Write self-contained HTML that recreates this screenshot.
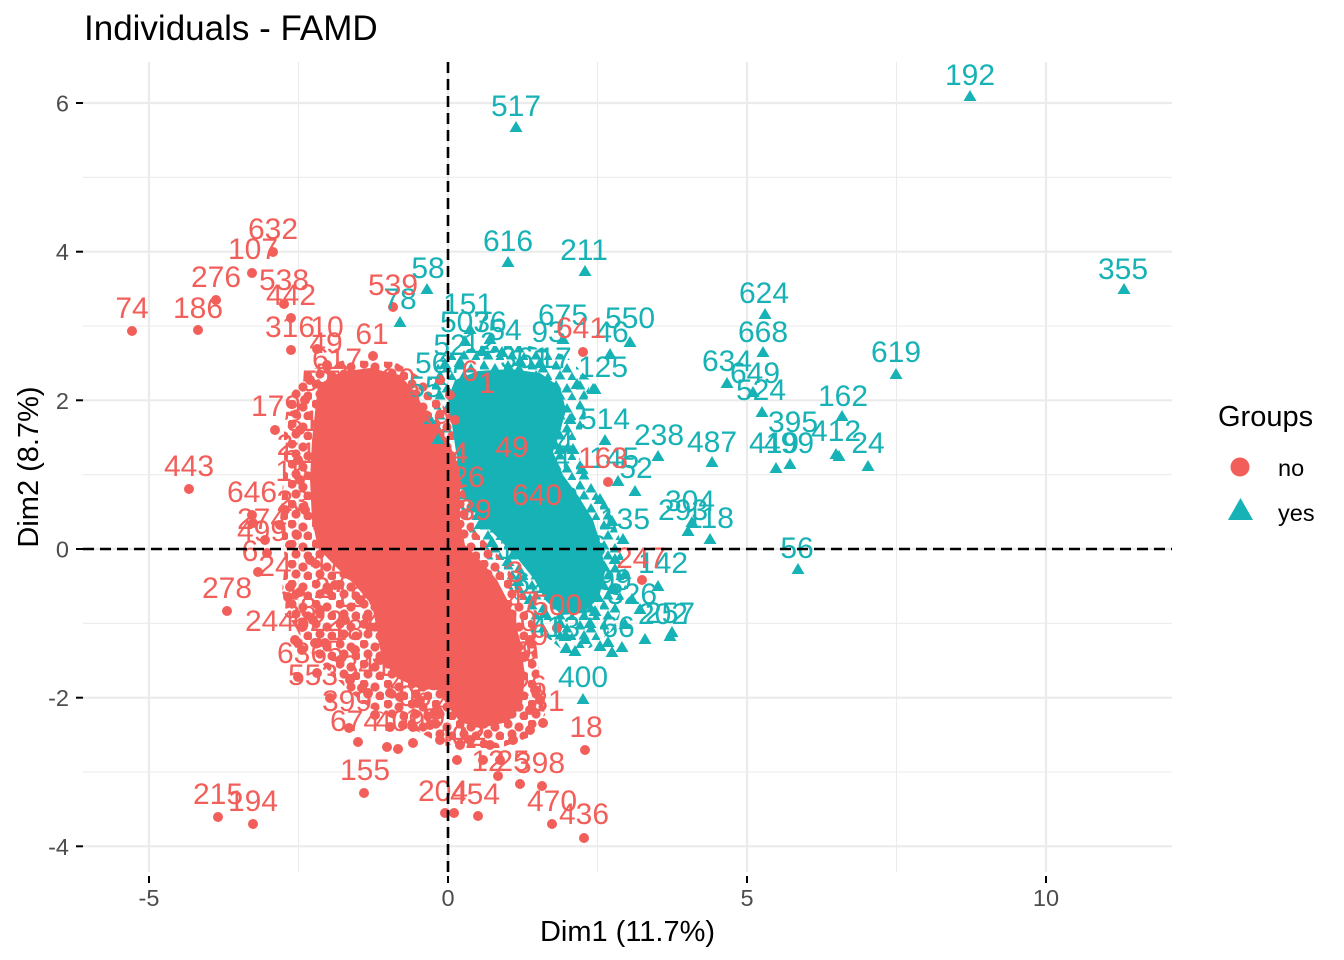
<!DOCTYPE html>
<html><head><meta charset="utf-8"><style>
html,body{margin:0;padding:0;background:#fff;}
svg{display:block;font-family:"Liberation Sans",Arial,sans-serif;}
</style></head><body>
<svg width="1344" height="960" viewBox="0 0 1344 960" xmlns="http://www.w3.org/2000/svg">
<defs>
<pattern id="pr" width="24" height="20" patternUnits="userSpaceOnUse">
<circle cx="4" cy="4" r="4.6" fill="#F25F5A"/><circle cx="15" cy="7" r="4.6" fill="#F25F5A"/><circle cx="8" cy="14" r="4.6" fill="#F25F5A"/><circle cx="20" cy="16" r="4.6" fill="#F25F5A"/>
</pattern>
<pattern id="pc" width="24" height="20" patternUnits="userSpaceOnUse">
<path d="M4,0l5.5,9.5h-11zM15,3l5.5,9.5h-11zM8,10l5.5,9.5h-11zM20,12l5.5,9.5h-11z" fill="#17B2B5"/>
</pattern>
</defs>
<rect width="1344" height="960" fill="#fff"/>
<!-- minor grid -->
<g stroke="#EBEBEB" stroke-width="1.1">
<line x1="298.5" y1="62" x2="298.5" y2="872"/><line x1="597.5" y1="62" x2="597.5" y2="872"/><line x1="896.5" y1="62" x2="896.5" y2="872"/>
<line x1="83" y1="177.3" x2="1172" y2="177.3"/><line x1="83" y1="326" x2="1172" y2="326"/><line x1="83" y1="474.7" x2="1172" y2="474.7"/><line x1="83" y1="623.3" x2="1172" y2="623.3"/><line x1="83" y1="772" x2="1172" y2="772"/>
</g>
<!-- major grid -->
<g stroke="#EBEBEB" stroke-width="2.2">
<line x1="149" y1="62" x2="149" y2="872"/><line x1="448" y1="62" x2="448" y2="872"/><line x1="747" y1="62" x2="747" y2="872"/><line x1="1046" y1="62" x2="1046" y2="872"/>
<line x1="83" y1="103" x2="1172" y2="103"/><line x1="83" y1="251.7" x2="1172" y2="251.7"/><line x1="83" y1="400.3" x2="1172" y2="400.3"/><line x1="83" y1="549" x2="1172" y2="549"/><line x1="83" y1="697.7" x2="1172" y2="697.7"/><line x1="83" y1="846.3" x2="1172" y2="846.3"/>
</g>
<!-- ticks -->
<g stroke="#000" stroke-width="2">
<line x1="76" y1="103" x2="83" y2="103"/><line x1="76" y1="251.7" x2="83" y2="251.7"/><line x1="76" y1="400.3" x2="83" y2="400.3"/><line x1="76" y1="549" x2="83" y2="549"/><line x1="76" y1="697.7" x2="83" y2="697.7"/><line x1="76" y1="846.3" x2="83" y2="846.3"/>
<line x1="149" y1="876" x2="149" y2="883"/><line x1="448" y1="876" x2="448" y2="883"/><line x1="747" y1="876" x2="747" y2="883"/><line x1="1046" y1="876" x2="1046" y2="883"/>
</g>
<!-- tick labels -->
<g fill="#4D4D4D" font-size="23.5" text-anchor="end">
<text x="69" y="111.5">6</text><text x="69" y="260">4</text><text x="69" y="409">2</text><text x="69" y="557.5">0</text><text x="69" y="706">-2</text><text x="69" y="855">-4</text>
</g>
<g fill="#4D4D4D" font-size="23.5" text-anchor="middle">
<text x="149" y="906">-5</text><text x="448" y="906">0</text><text x="747" y="906">5</text><text x="1046" y="906">10</text>
</g>
<!-- titles -->
<text x="84" y="40" font-size="35" fill="#000">Individuals - FAMD</text>
<text x="627.5" y="941" font-size="29" fill="#000" text-anchor="middle">Dim1 (11.7%)</text>
<text transform="translate(38,467) rotate(-90)" font-size="29" fill="#000" text-anchor="middle">Dim2 (8.7%)</text>

<!-- textured fringes -->
<path fill="url(#pc)" d="M428,382 L442,356 L480,346 L530,346 L565,355 L590,380 L585,420 L575,450 L592,480 L610,510 L622,545 L626,590 L616,628 L590,648 L560,648 L535,628 L515,598 L495,568 L475,545 L462,515 L456,482 L442,445 Z"/>
<path fill="url(#pr)" d="M288,398 L308,370 L345,360 L395,362 L425,380 L445,408 L468,430 L472,470 L474,530 L498,555 L523,590 L535,630 L540,680 L545,715 L530,737 L500,748 L460,748 L430,738 L400,722 L370,708 L350,692 L330,672 L310,652 L292,622 L282,592 L285,560 L280,520 L284,470 L284,430 Z"/>

<!-- dense cores -->
<path fill="#17B2B5" d="M448,398 L455,380 L478,371 L510,369 L540,373 L560,387 L566,410 L560,432 L553,452 L563,475 L579,497 L593,520 L601,545 L605,572 L599,598 L583,613 L562,615 L546,601 L534,579 L518,559 L500,540 L482,522 L468,502 L460,478 L455,445 Z"/>
<path fill="#F25F5A" d="M318,385 L340,372 L370,368 L400,375 L415,392 L430,420 L448,440 L460,470 L460,520 L465,545 L480,560 L497,580 L510,605 L520,640 L525,675 L522,705 L508,722 L480,728 L460,722 L447,705 L438,690 L418,688 L397,678 L382,660 L377,630 L372,605 L355,585 L335,566 L318,548 L312,520 L310,480 L312,440 Z"/>

<!-- cyan triangles -->
<path fill="#17B2B5" d="M970,90l6.5,11h-13zM516,121l6.5,11h-13zM1124,283l6.5,11h-13zM508,256l6.5,11h-13zM585,265l6.5,11h-13zM427,283l6.5,11h-13zM400,316l6.5,11h-13zM465,335l6.5,11h-13zM482,345l6.5,11h-13zM502,346l6.5,11h-13zM460,356l6.5,11h-13zM563,333l6.5,11h-13zM610,348l6.5,11h-13zM630,336l6.5,11h-13zM595,383l6.5,11h-13zM577,378l6.5,11h-13zM557,390l6.5,11h-13zM605,434l6.5,11h-13zM658,450l6.5,11h-13zM765,308l6.5,11h-13zM763,346l6.5,11h-13zM896,368l6.5,11h-13zM727,377l6.5,11h-13zM753,386l6.5,11h-13zM762,406l6.5,11h-13zM842,410l6.5,11h-13zM836,448l6.5,11h-13zM839,450l6.5,11h-13zM868,460l6.5,11h-13zM776,462l6.5,11h-13zM790,458l6.5,11h-13zM712,456l6.5,11h-13zM618,475l6.5,11h-13zM635,485l6.5,11h-13zM688,525l6.5,11h-13zM692,516l6.5,11h-13zM710,533l6.5,11h-13zM623,533l6.5,11h-13zM798,563l6.5,11h-13zM658,580l6.5,11h-13zM670,630l6.5,11h-13zM672,626l6.5,11h-13zM566,642l6.5,11h-13zM575,645l6.5,11h-13zM612,646l6.5,11h-13zM622,641l6.5,11h-13zM608,636l6.5,11h-13zM501,519l6.5,11h-13zM598,591l6.5,11h-13zM583,693l6.5,11h-13zM593,383l6.5,11h-13zM440,374l6.5,11h-13zM445,358l6.5,11h-13zM520,355l6.5,11h-13zM540,357l6.5,11h-13zM570,413l6.5,11h-13zM573,443l6.5,11h-13zM582,463l6.5,11h-13zM600,493l6.5,11h-13zM612,515l6.5,11h-13zM615,553l6.5,11h-13zM612,583l6.5,11h-13zM590,617l6.5,11h-13zM560,617l6.5,11h-13zM545,607l6.5,11h-13zM530,593l6.5,11h-13zM518,575l6.5,11h-13zM508,555l6.5,11h-13zM492,536l6.5,11h-13zM480,518l6.5,11h-13zM595,605l6.5,11h-13zM632,593l6.5,11h-13zM640,603l6.5,11h-13zM625,618l6.5,11h-13zM585,633l6.5,11h-13zM430,413l6.5,11h-13zM438,433l6.5,11h-13zM470,323l6.5,11h-13zM490,333l6.5,11h-13zM548,451l6.5,11h-13zM560,443l6.5,11h-13zM625,568l6.5,11h-13zM645,633l6.5,11h-13zM470,430l6.5,11h-13zM466,470l6.5,11h-13zM472,500l6.5,11h-13zM565,630l6.5,11h-13zM600,640l6.5,11h-13z"/>

<!-- red points -->
<g fill="#F25F5A">
<circle cx="273" cy="252" r="5"/><circle cx="252" cy="273" r="5"/><circle cx="216" cy="300" r="5"/><circle cx="284" cy="304" r="5"/><circle cx="291" cy="318" r="5"/><circle cx="198" cy="330" r="5"/><circle cx="132" cy="331" r="5"/><circle cx="393" cy="307" r="5"/><circle cx="291" cy="350" r="5"/><circle cx="317" cy="349" r="5"/><circle cx="327" cy="365" r="5"/><circle cx="373" cy="356" r="5"/><circle cx="275" cy="430" r="5"/><circle cx="189" cy="489" r="5"/><circle cx="252" cy="515" r="5"/><circle cx="253" cy="523" r="5"/><circle cx="265" cy="540" r="5"/><circle cx="267" cy="553" r="5"/><circle cx="297" cy="535" r="5"/><circle cx="258" cy="572" r="5"/><circle cx="227" cy="611" r="5"/><circle cx="290" cy="587" r="5"/><circle cx="300" cy="592" r="5"/><circle cx="328" cy="590" r="5"/><circle cx="288" cy="597" r="5"/><circle cx="320" cy="610" r="5"/><circle cx="303" cy="623" r="5"/><circle cx="313" cy="620" r="5"/><circle cx="302" cy="627" r="5"/><circle cx="295" cy="640" r="5"/><circle cx="298" cy="643" r="5"/><circle cx="315" cy="643" r="5"/><circle cx="318" cy="643" r="5"/><circle cx="325" cy="643" r="5"/><circle cx="302" cy="650" r="5"/><circle cx="298" cy="677" r="5"/><circle cx="317" cy="673" r="5"/><circle cx="330" cy="698" r="5"/><circle cx="349" cy="728" r="5"/><circle cx="358" cy="742" r="5"/><circle cx="364" cy="793" r="5"/><circle cx="387" cy="747" r="5"/><circle cx="398" cy="749" r="5"/><circle cx="413" cy="743" r="5"/><circle cx="370" cy="627" r="5"/><circle cx="367" cy="617" r="5"/><circle cx="387" cy="647" r="5"/><circle cx="383" cy="640" r="5"/><circle cx="362" cy="688" r="5"/><circle cx="368" cy="693" r="5"/><circle cx="390" cy="693" r="5"/><circle cx="400" cy="697" r="5"/><circle cx="417" cy="703" r="5"/><circle cx="413" cy="727" r="5"/><circle cx="390" cy="727" r="5"/><circle cx="403" cy="725" r="5"/><circle cx="445" cy="813" r="5"/><circle cx="454" cy="813" r="5"/><circle cx="478" cy="816" r="5"/><circle cx="498" cy="776" r="5"/><circle cx="520" cy="784" r="5"/><circle cx="542" cy="786" r="5"/><circle cx="552" cy="824" r="5"/><circle cx="584" cy="838" r="5"/><circle cx="585" cy="750" r="5"/><circle cx="642" cy="580" r="5"/><circle cx="457" cy="760" r="5"/><circle cx="483" cy="760" r="5"/><circle cx="543" cy="723" r="5"/><circle cx="513" cy="740" r="5"/><circle cx="218" cy="817" r="5"/><circle cx="253" cy="824" r="5"/><circle cx="583" cy="352" r="5"/><circle cx="608" cy="482" r="5"/><circle cx="557" cy="628" r="5"/>
<circle cx="310" cy="380" r="5"/><circle cx="305" cy="400" r="5"/><circle cx="300" cy="430" r="5"/><circle cx="298" cy="460" r="5"/><circle cx="300" cy="480" r="5"/><circle cx="305" cy="510" r="5"/><circle cx="285" cy="510" r="5"/><circle cx="280" cy="525" r="5"/><circle cx="290" cy="545" r="5"/><circle cx="310" cy="560" r="5"/><circle cx="340" cy="560" r="5"/><circle cx="350" cy="575" r="5"/><circle cx="470" cy="560" r="5"/><circle cx="500" cy="600" r="5"/><circle cx="530" cy="640" r="5"/><circle cx="535" cy="690" r="5"/><circle cx="530" cy="710" r="5"/><circle cx="540" cy="700" r="5"/><circle cx="460" cy="745" r="5"/><circle cx="470" cy="740" r="5"/><circle cx="490" cy="745" r="5"/><circle cx="530" cy="730" r="5"/><circle cx="500" cy="760" r="5"/><circle cx="440" cy="740" r="5"/><circle cx="430" cy="725" r="5"/><circle cx="460" cy="700" r="5"/><circle cx="440" cy="380" r="5"/><circle cx="450" cy="395" r="5"/><circle cx="455" cy="420" r="5"/><circle cx="420" cy="700" r="5"/><circle cx="435" cy="712" r="5"/><circle cx="380" cy="660" r="5"/><circle cx="395" cy="670" r="5"/><circle cx="360" cy="600" r="5"/><circle cx="345" cy="620" r="5"/><circle cx="355" cy="650" r="5"/><circle cx="340" cy="660" r="5"/><circle cx="350" cy="680" r="5"/><circle cx="375" cy="715" r="5"/><circle cx="335" cy="585" r="5"/>
</g>

<!-- cyan labels -->
<g fill="#17B2B5" font-size="30" text-anchor="middle">
<text x="970" y="85">192</text><text x="516" y="116">517</text><text x="1123" y="279">355</text><text x="508" y="251">616</text><text x="584" y="260">211</text><text x="428" y="278">58</text><text x="400" y="309">78</text><text x="468" y="314">151</text><text x="465" y="332">507</text><text x="490" y="332">36</text><text x="505" y="340">54</text><text x="450" y="355">52</text><text x="480" y="353">12</text><text x="440" y="373">567</text><text x="425" y="397">55</text><text x="525" y="368">361</text><text x="555" y="368">17</text><text x="603" y="377">125</text><text x="563" y="325">675</text><text x="630" y="328">550</text><text x="612" y="342">46</text><text x="548" y="342">93</text>
<text x="764" y="303">624</text><text x="763" y="342">668</text><text x="896" y="362">619</text><text x="727" y="371">634</text><text x="755" y="383">649</text><text x="761" y="400">524</text><text x="843" y="406">162</text><text x="793" y="432">395</text><text x="836" y="441">412</text><text x="868" y="453">24</text><text x="774" y="453">419</text><text x="789" y="453">499</text><text x="712" y="452">487</text><text x="659" y="445">238</text><text x="605" y="429">514</text><text x="614" y="468">145</text><text x="636" y="478">52</text><text x="690" y="511">304</text><text x="683" y="520">293</text><text x="710" y="528">118</text><text x="625" y="529">135</text><text x="797" y="558">56</text><text x="663" y="573">142</text><text x="670" y="623">257</text><text x="663" y="624">202</text><text x="583" y="687">400</text><text x="632" y="604">326</text><text x="615" y="590">99</text><text x="515" y="559">12</text><text x="545" y="468">404</text><text x="570" y="508">2</text><text x="545" y="431">45</text><text x="555" y="637">413</text><text x="618" y="637">66</text><text x="530" y="593">62</text><text x="568" y="528">3</text><text x="582" y="545">8</text><text x="598" y="556">6</text><text x="597" y="570">1</text><text x="565" y="452">4</text><text x="480" y="470">1</text><text x="490" y="500">5</text><text x="585" y="620">1</text>
</g>

<!-- red labels -->
<g fill="#F25F5A" font-size="30" text-anchor="middle">
<text x="273" y="239">632</text><text x="253" y="259">107</text><text x="216" y="287">276</text><text x="284" y="290">538</text><text x="291" y="305">442</text><text x="132" y="318">74</text><text x="198" y="318">186</text><text x="393" y="295">539</text><text x="290" y="337">316</text><text x="327" y="337">10</text><text x="326" y="353">49</text><text x="372" y="344">61</text><text x="337" y="369">617</text><text x="318" y="391">57</text><text x="350" y="391">530</text><text x="390" y="389">580</text><text x="276" y="416">179</text><text x="303" y="431">31</text><text x="300" y="463">51</text><text x="292" y="481">15</text><text x="189" y="476">443</text><text x="252" y="502">646</text><text x="293" y="511">23</text><text x="262" y="529">274</text><text x="262" y="541">499</text><text x="250" y="561">6</text><text x="275" y="576">24</text><text x="335" y="571">474</text><text x="227" y="598">278</text><text x="300" y="618">58</text><text x="270" y="631">244</text><text x="318" y="631">622</text><text x="302" y="663">636</text><text x="335" y="661">5</text><text x="313" y="685">553</text><text x="375" y="676">3410</text><text x="347" y="711">399</text><text x="355" y="731">674</text><text x="400" y="731">409</text><text x="422" y="729">19</text><text x="365" y="780">155</text><text x="218" y="804">215</text><text x="253" y="811">194</text><text x="460" y="746">402</text><text x="488" y="771">12</text><text x="513" y="771">25</text><text x="540" y="773">398</text><text x="443" y="801">204</text><text x="475" y="804">454</text><text x="552" y="811">470</text><text x="584" y="824">436</text><text x="586" y="737">18</text><text x="548" y="711">31</text><text x="530" y="696">26</text><text x="425" y="431">589</text><text x="470" y="381">6</text><text x="487" y="393">1</text><text x="512" y="457">49</text><text x="460" y="463">4</text><text x="468" y="487">26</text><text x="475" y="520">39</text><text x="455" y="552">7</text><text x="557" y="615">500</text><text x="537" y="505">640</text><text x="641" y="568">247</text><text x="603" y="468">163</text><text x="581" y="338">641</text><text x="520" y="631">40</text><text x="530" y="661">9</text><text x="367" y="607">1967</text><text x="392" y="630">432</text><text x="390" y="652">3</text><text x="433" y="690">6</text><text x="407" y="693">46</text><text x="437" y="727">9</text><text x="332" y="384">53</text><text x="412" y="405">8</text><text x="367" y="587">5</text><text x="340" y="592">7</text><text x="322" y="598">2</text><text x="347" y="640">18</text><text x="380" y="664">3</text><text x="415" y="706">06</text><text x="445" y="712">4</text><text x="515" y="662">29</text><text x="540" y="645">9</text><text x="530" y="612">7</text><text x="515" y="610">4</text><text x="515" y="582">3</text><text x="470" y="740">12</text><text x="320" y="545">3</text><text x="285" y="455">2</text>
</g>

<!-- reference lines -->
<g stroke="#000" stroke-width="2.6" stroke-dasharray="11 6">
<line x1="448" y1="62" x2="448" y2="872"/>
<line x1="83" y1="549" x2="1172" y2="549"/>
</g>

<!-- legend -->
<text x="1218" y="426" font-size="29" fill="#000">Groups</text>
<circle cx="1240" cy="467" r="9.5" fill="#F25F5A"/>
<path d="M1240.5,498 L1253,520 L1228,520 Z" fill="#17B2B5"/>
<text x="1278" y="476" font-size="23.5" fill="#000">no</text>
<text x="1278" y="521" font-size="23.5" fill="#000">yes</text>
</svg>
</body></html>
